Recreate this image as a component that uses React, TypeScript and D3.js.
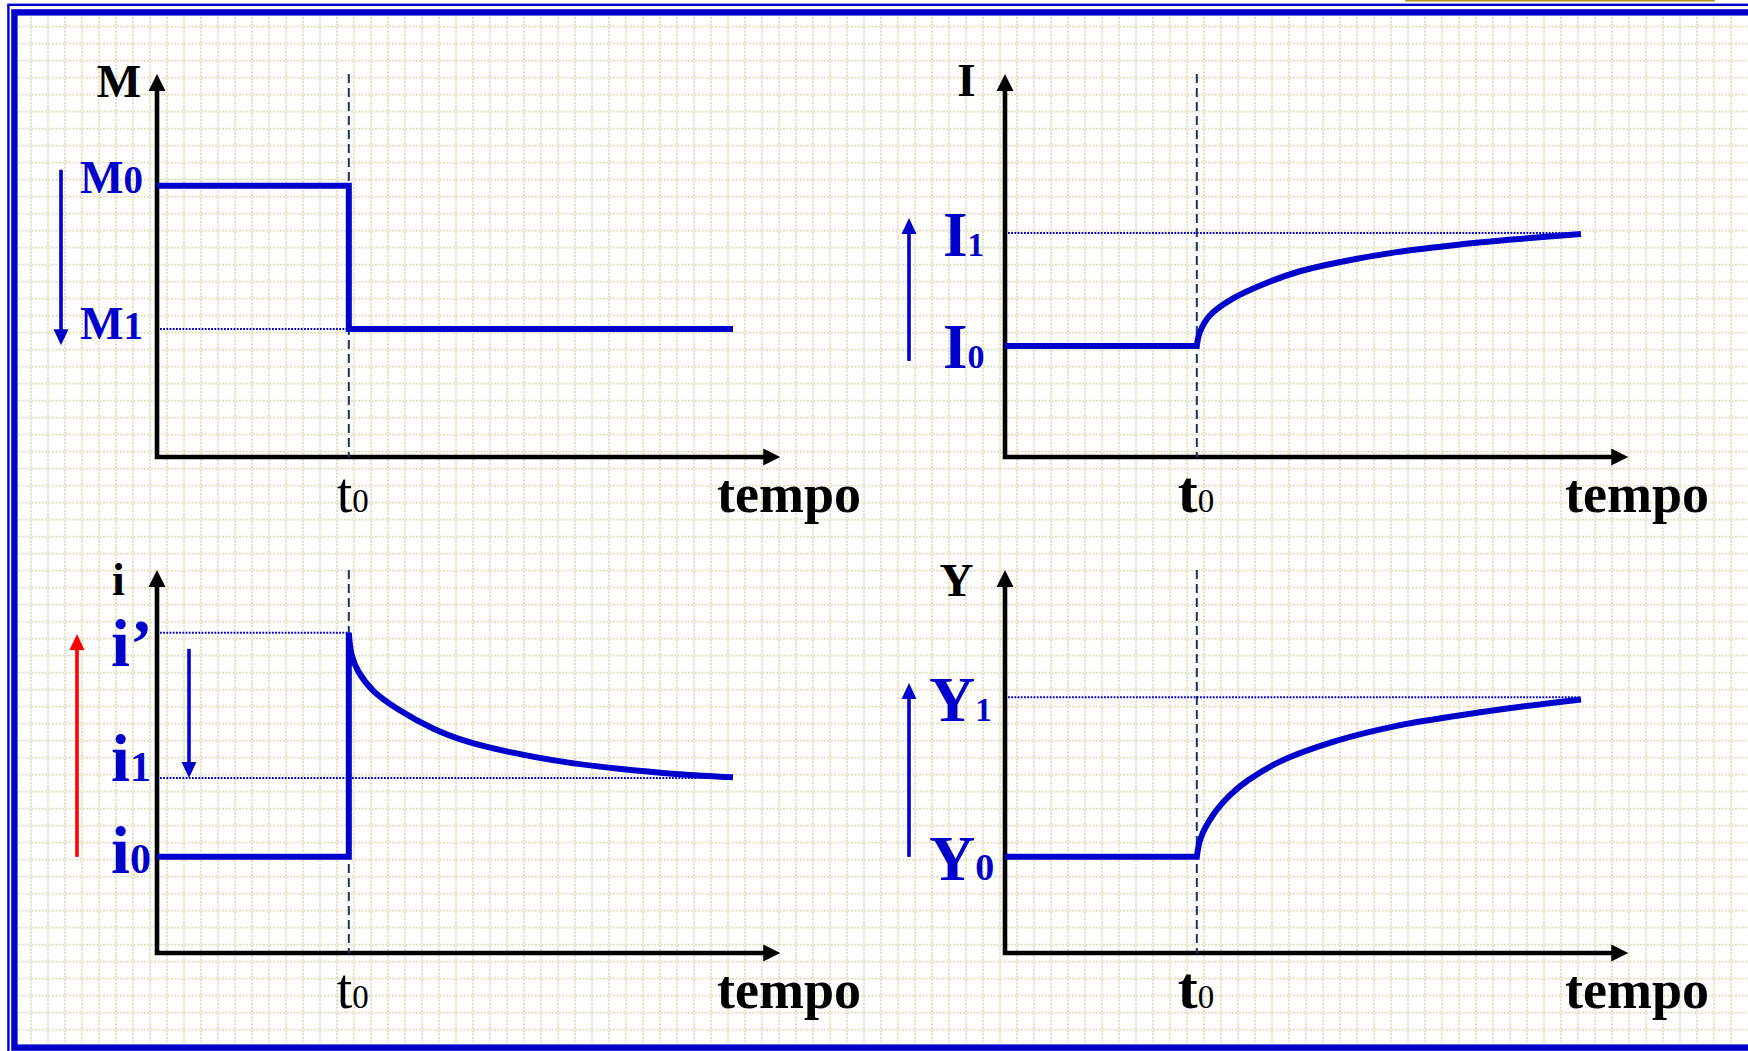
import React from "react";
import * as d3 from "d3";

const W = 1748;
const H = 1051;
const FONT = "'Liberation Serif', 'Times New Roman', serif";
const BLUE = "#0000cc";

// time axis (arbitrary units), t0 = instant of the shock
const T0 = 3.33;
const T_END = 10;
const T_AXIS = 10.82;
const V_TOP = 10;

// Panel M (money supply)
const M0 = 7.08;
const M1 = 3.34;
const mTime = [0, T0, T0, T_END];
const mValue = [M0, M0, M1, M1];

// Panel I (investment)
const I0 = 2.9;
const I1 = 5.85;
const iFlatTime = [0, T0];
const iFlatValue = [I0, I0];
const iCurveTime = [3.33, 3.38, 3.56, 3.96, 4.55, 5.12, 5.78, 6.8, 7.79, 8.75, 10.0];
const iCurveValue = [2.9, 3.25, 3.7, 4.14, 4.55, 4.85, 5.08, 5.35, 5.53, 5.67, 5.82];

// Panel i (interest rate)
const r0 = 2.51;
const r1 = 4.57;
const rPrime = 8.36;
const rStepTime = [0, T0, T0];
const rStepValue = [r0, r0, rPrime];
const rCurveTime = [3.33, 3.38, 3.5, 3.76, 4.2, 4.81, 5.41, 6.11, 6.98, 8.02, 9.06, 10.0];
const rCurveValue = [8.36, 7.78, 7.34, 6.84, 6.35, 5.85, 5.51, 5.25, 5.01, 4.81, 4.67, 4.59];

// Panel Y (income)
const Y0 = 2.51;
const Y1 = 6.68;
const yFlatTime = [0, T0];
const yFlatValue = [Y0, Y0];
const yCurveTime = [3.33, 3.4, 3.63, 3.92, 4.22, 4.79, 5.78, 6.8, 7.79, 8.75, 10.0];
const yCurveValue = [2.51, 3.01, 3.64, 4.14, 4.51, 5.01, 5.55, 5.93, 6.18, 6.39, 6.62];

const zip = (t: number[], v: number[]) => t.map((d, i) => [d, v[i]] as [number, number]);

type Panel = { ox: number; oy: number };
const PANELS: Record<string, Panel> = {
  M: { ox: 157, oy: 457 },
  I: { ox: 1005, oy: 457 },
  r: { ox: 157, oy: 953 },
  Y: { ox: 1005, oy: 953 },
};

function scales(p: Panel) {
  const x = d3.scaleLinear().domain([0, T_END]).range([p.ox, p.ox + 576]);
  const y = d3.scaleLinear().domain([0, V_TOP]).range([p.oy, p.oy - 383]);
  return { x, y };
}

function Axes({ p, boldT0 }: { p: Panel; boldT0: boolean }) {
  const { x, y } = scales(p);
  const x0 = x(0);
  const y0 = y(0);
  const yTop = y(V_TOP);
  const xEnd = x(T_AXIS);
  const head = 17;
  const hw = 8.5;
  return (
    <g>
      <path
        d={`M${x0},${yTop + head - 1} L${x0},${y0} L${xEnd - head + 1},${y0}`}
        fill="none"
        stroke="#000"
        strokeWidth={4.6}
        strokeLinejoin="miter"
        strokeLinecap="square"
      />
      <path d={`M${x0},${yTop} L${x0 - hw},${yTop + head} L${x0 + hw},${yTop + head} Z`} fill="#000" />
      <path d={`M${xEnd},${y0} L${xEnd - head},${y0 - hw} L${xEnd - head},${y0 + hw} Z`} fill="#000" />
      <line
        x1={x(T0)}
        x2={x(T0)}
        y1={yTop}
        y2={y0}
        stroke="#17375e"
        strokeWidth={2}
        strokeDasharray="9,5"
      />
      <text x={x(T0) - (boldT0 ? 19 : 12)} y={y0 + 55} fontFamily={FONT} fill="#000">
        <tspan fontSize={boldT0 ? 60 : 56} fontWeight={boldT0 ? "bold" : "normal"}>t</tspan>
        <tspan fontSize={33} fontWeight="normal">0</tspan>
      </text>
      <text x={x0 + 560} y={y0 + 55} fontFamily={FONT} fontWeight="bold" fontSize={54} fill="#000">
        tempo
      </text>
    </g>
  );
}

function Arrow({ x, y1, y2, color }: { x: number; y1: number; y2: number; color: string }) {
  // y1 = tail, y2 = tip
  const dir = y2 > y1 ? 1 : -1;
  const head = 16;
  return (
    <g>
      <line x1={x} x2={x} y1={y1} y2={y2 - dir * (head - 1)} stroke={color} strokeWidth={3.6} />
      <path d={`M${x},${y2} L${x - 7.5},${y2 - dir * head} L${x + 7.5},${y2 - dir * head} Z`} fill={color} />
    </g>
  );
}

function RefLine({ x1, x2, y }: { x1: number; x2: number; y: number }) {
  return <line x1={x1} x2={x2} y1={y} y2={y} stroke={BLUE} strokeWidth={2} strokeDasharray="1.8,1.4" />;
}

export default function App() {
  const linear = d3.line<[number, number]>().curve(d3.curveLinear);
  const smooth = d3.line<[number, number]>().curve(d3.curveCatmullRom.alpha(0.5));

  const pm = PANELS.M;
  const sm = scales(pm);
  const pI = PANELS.I;
  const sI = scales(pI);
  const pr = PANELS.r;
  const sr = scales(pr);
  const pY = PANELS.Y;
  const sY = scales(pY);

  const toPx = (s: ReturnType<typeof scales>, pts: [number, number][]) =>
    pts.map(([t, v]) => [s.x(t), s.y(v)] as [number, number]);

  const mPath = linear(toPx(sm, zip(mTime, mValue))) || "";
  const iPath =
    (linear(toPx(sI, zip(iFlatTime, iFlatValue))) || "") +
    (smooth(toPx(sI, zip(iCurveTime, iCurveValue))) || "").replace(/^M/, "L");
  const rPath =
    (linear(toPx(sr, zip(rStepTime, rStepValue))) || "") +
    (smooth(toPx(sr, zip(rCurveTime, rCurveValue))) || "").replace(/^M/, "L");
  const yPath =
    (linear(toPx(sY, zip(yFlatTime, yFlatValue))) || "") +
    (smooth(toPx(sY, zip(yCurveTime, yCurveValue))) || "").replace(/^M/, "L");

  const gridX = d3.range(31, W, 17);
  const gridY = d3.range(26.7, 1043, 17);

  const curveStyle = {
    fill: "none",
    stroke: BLUE,
    strokeWidth: 6,
    strokeLinejoin: "miter" as const,
  };

  return (
    <svg
      width={W}
      height={H}
      viewBox={`0 0 ${W} ${H}`}
      style={{ position: "absolute", left: 0, top: 0, display: "block" }}
    >
      <rect x={0} y={0} width={W} height={H} fill="#fff" />
      {/* background dotted grid */}
      <g stroke="#e0dcbe" strokeWidth={1.8} strokeDasharray="2,1.4">
        {gridX.map((gx) => (
          <line key={"gx" + gx} x1={gx} x2={gx} y1={17} y2={1043} />
        ))}
        {gridY.map((gy) => (
          <line key={"gy" + gy} x1={18} x2={W} y1={gy} y2={gy} />
        ))}
      </g>
      {/* frame */}
      <rect x={8.4} y={4.8} width={1900} height={1053} fill="none" stroke={BLUE} strokeWidth={2.4} />
      <rect x={14.4} y={12.4} width={1900} height={1035.2} fill="none" stroke={BLUE} strokeWidth={6.4} />
      <line x1={1405} x2={1715} y1={0.5} y2={0.5} stroke="#b8901a" strokeWidth={2} />

      {/* Panel M */}
      <Axes p={pm} boldT0={false} />
      <RefLine x1={sm.x(0) + 3} x2={sm.x(T0)} y={sm.y(M1)} />
      <path d={mPath} {...curveStyle} />
      <text x={141} y={97} textAnchor="end" fontFamily={FONT} fontWeight="bold" fontSize={47} fill="#000">M</text>
      <text x={80} y={193} fontFamily={FONT} fontWeight="bold" fill={BLUE}>
        <tspan fontSize={46}>M</tspan>
        <tspan fontSize={39}>0</tspan>
      </text>
      <text x={80} y={339} fontFamily={FONT} fontWeight="bold" fill={BLUE}>
        <tspan fontSize={46}>M</tspan>
        <tspan fontSize={39}>1</tspan>
      </text>
      <Arrow x={61} y1={sm.y(7.5)} y2={sm.y(2.92)} color={BLUE} />

      {/* Panel I */}
      <Axes p={pI} boldT0={true} />
      <RefLine x1={sI.x(0) + 3} x2={sI.x(T_END)} y={sI.y(I1)} />
      <path d={iPath} {...curveStyle} />
      <text x={966.5} y={96} textAnchor="middle" fontFamily={FONT} fontWeight="bold" fontSize={47} fill="#000">I</text>
      <text x={943} y={256} fontFamily={FONT} fontWeight="bold" fill={BLUE}>
        <tspan fontSize={63}>I</tspan>
        <tspan fontSize={33}>1</tspan>
      </text>
      <text x={943} y={368} fontFamily={FONT} fontWeight="bold" fill={BLUE}>
        <tspan fontSize={63}>I</tspan>
        <tspan fontSize={34}>0</tspan>
      </text>
      <Arrow x={909} y1={sI.y(2.51)} y2={sI.y(6.24)} color={BLUE} />

      {/* Panel i */}
      <Axes p={pr} boldT0={false} />
      <RefLine x1={sr.x(0) + 3} x2={sr.x(T0)} y={sr.y(rPrime)} />
      <RefLine x1={sr.x(0) + 3} x2={sr.x(T_END)} y={sr.y(r1)} />
      <path d={rPath} {...curveStyle} />
      <text x={118.5} y={595} textAnchor="middle" fontFamily={FONT} fontWeight="bold" fontSize={46} fill="#000">i</text>
      <text x={111} y={666} fontFamily={FONT} fontWeight="bold" fontSize={68} fill={BLUE}>i’</text>
      <text x={111} y={781} fontFamily={FONT} fontWeight="bold" fill={BLUE}>
        <tspan fontSize={68}>i</tspan>
        <tspan fontSize={42}>1</tspan>
      </text>
      <text x={111} y={873} fontFamily={FONT} fontWeight="bold" fill={BLUE}>
        <tspan fontSize={68}>i</tspan>
        <tspan fontSize={42}>0</tspan>
      </text>
      <Arrow x={77} y1={sr.y(2.51)} y2={sr.y(8.33)} color="#ff0000" />
      <Arrow x={189} y1={sr.y(7.94)} y2={sr.y(4.57)} color={BLUE} />

      {/* Panel Y */}
      <Axes p={pY} boldT0={true} />
      <RefLine x1={sY.x(0) + 3} x2={sY.x(T_END)} y={sY.y(Y1)} />
      <path d={yPath} {...curveStyle} />
      <text x={956.5} y={596} textAnchor="middle" fontFamily={FONT} fontWeight="bold" fontSize={47} fill="#000">Y</text>
      <text x={929} y={721} fontFamily={FONT} fontWeight="bold" fill={BLUE}>
        <tspan fontSize={64}>Y</tspan>
        <tspan fontSize={33}>1</tspan>
      </text>
      <text x={929} y={880} fontFamily={FONT} fontWeight="bold" fill={BLUE}>
        <tspan fontSize={64}>Y</tspan>
        <tspan fontSize={38}>0</tspan>
      </text>
      <Arrow x={909} y1={sY.y(2.51)} y2={sY.y(7.05)} color={BLUE} />
    </svg>
  );
}
